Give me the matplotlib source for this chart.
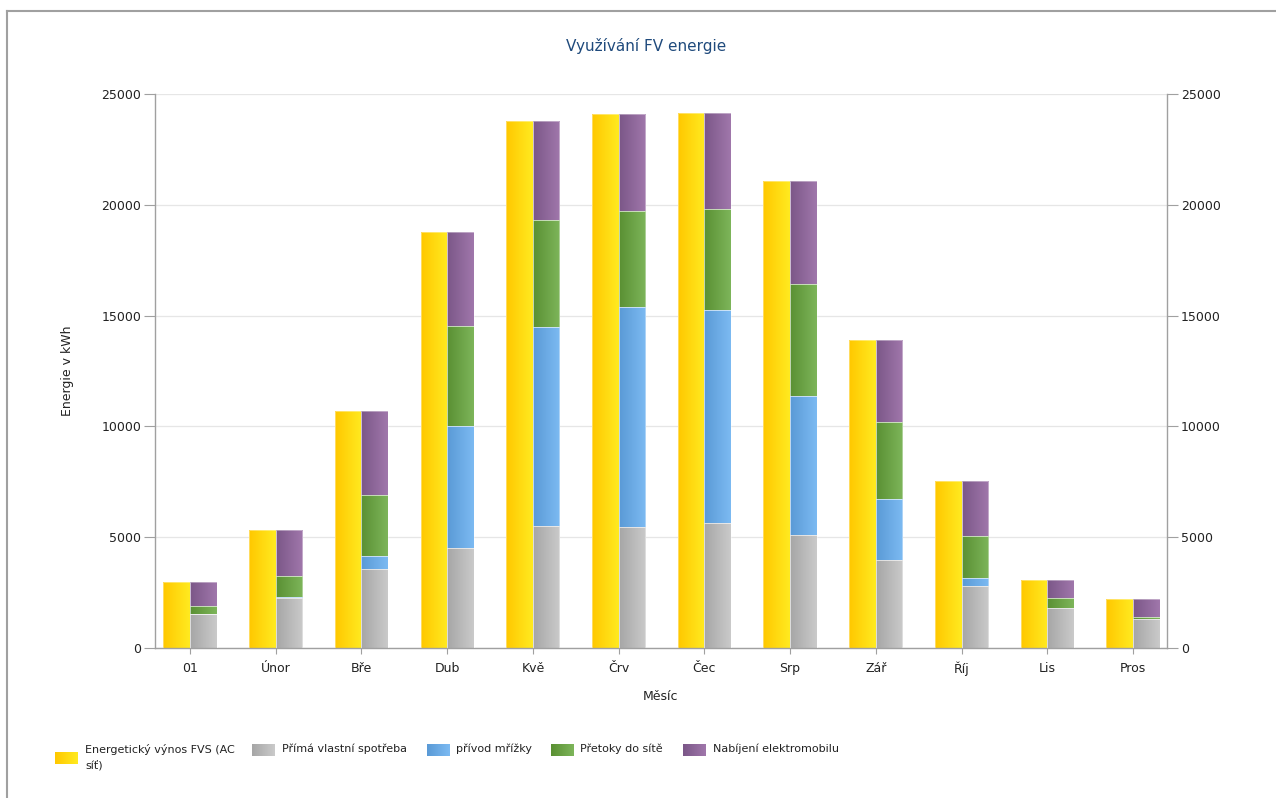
import numpy as np
import matplotlib
matplotlib.use("Agg")
import matplotlib.pyplot as plt
from matplotlib.colors import LinearSegmentedColormap
from matplotlib.lines import Line2D

plt.rcParams['font.family'] = ['DejaVu Sans']

# ---- data (kWh per month) ----
months = ["01", "Únor", "Bře", "Dub", "Kvě", "Črv", "Čec", "Srp", "Zář", "Říj", "Lis", "Pros"]
vynos_fvs = [2980, 5330, 10700, 18770, 23770, 24080, 24160, 21070, 13900, 7550, 3080, 2210]
prima_spotreba = [1520, 2270, 3560, 4500, 5490, 5450, 5640, 5080, 3970, 2800, 1790, 1290]
privod_mrizky = [20, 10, 590, 5520, 9010, 9940, 9630, 6280, 2740, 350, 0, 0]
pretoky_do_site = [370, 980, 2750, 4510, 4810, 4320, 4540, 5080, 3490, 1920, 450, 110]
nabijeni_ev = [1070, 2070, 3800, 4240, 4460, 4370, 4350, 4630, 3700, 2480, 840, 810]

series_names = ["Energetický výnos FVS (AC\nsíť)", "Přímá vlastní spotřeba",
                "přívod mřížky", "Přetoky do sítě", "Nabíjení elektromobilu"]
# left -> right gradient colours of each series
grad_colors = [("#FFC800", "#FFEA20"),
               ("#A6A6A6", "#CACACA"),
               ("#5A9AD6", "#7CBAF2"),
               ("#5A9033", "#7DB55A"),
               ("#7B5788", "#A077AB")]

W, H = 1276, 798
fig = plt.figure(figsize=(W / 100, H / 100), dpi=100)
fig.patch.set_facecolor("white")

# axes frame in pixel terms
L, R, T, B = 155, 1167, 94, 648
ax = fig.add_axes([L / W, 1 - B / H, (R - L) / W, (B - T) / H])


def gradient_fill(axis, rect, c0, c1):
    x0, y0 = rect.get_xy()
    w, h = rect.get_width(), rect.get_height()
    if h <= 0:
        return
    cmap = LinearSegmentedColormap.from_list("g", [c0, c1])
    im = axis.imshow(np.linspace(0, 1, 64).reshape(1, -1), cmap=cmap,
                     extent=[x0, x0 + w, y0, y0 + h], aspect="auto",
                     interpolation="bilinear", zorder=2)
    im.set_clip_path(rect)
    rect.set_facecolor("none")
    rect.set_edgecolor((1, 1, 1, 0.45))
    rect.set_linewidth(0.6)
    rect.set_zorder(3)


x = np.arange(len(months))
bw = 0.31

# production bar
bars = ax.bar(x - bw / 2, vynos_fvs, width=bw, color=grad_colors[0][0])
for r in bars:
    gradient_fill(ax, r, *grad_colors[0])

# stacked usage bar
bottom = np.zeros(len(months))
stack = [prima_spotreba, privod_mrizky, pretoky_do_site, nabijeni_ev]
for vals, cols in zip(stack, grad_colors[1:]):
    vals = np.array(vals, dtype=float)
    bs = ax.bar(x + bw / 2, vals, width=bw, bottom=bottom, color=cols[0])
    for r in bs:
        gradient_fill(ax, r, *cols)
    bottom += vals

ax.set_xlim(-0.408, len(months) - 1 + 0.397)
ax.set_ylim(0, 25000)
ax.set_yticks(np.arange(0, 25001, 5000))
ax.set_xticks(x)
ax.set_xticklabels(months)

ax.grid(axis="y", color="#e6e6e6", linewidth=0.9, zorder=0)
ax.set_axisbelow(True)
ax.spines["top"].set_visible(False)
for s in ["left", "right", "bottom"]:
    ax.spines[s].set_color("#a0a0a0")
    ax.spines[s].set_linewidth(1.0)

ax.tick_params(axis="y", which="both", left=True, right=True, labelleft=True,
               labelright=True, length=8, width=0.8, color="#a0a0a0",
               pad=2, labelsize=9, labelcolor="#222222")
ax.tick_params(axis="x", length=4, width=0.8, color="#a0a0a0", pad=6,
               labelsize=9, labelcolor="#222222")

ax.set_xlabel("Měsíc", fontsize=9, color="#222222")
ax.xaxis.label.set_va("center")
ax.xaxis.set_label_coords((660 - L) / (R - L), -(697 - B) / (B - T))
ax.set_ylabel("Energie v kWh", fontsize=9, color="#222222")
ax.yaxis.label.set_va("center")
ax.yaxis.set_label_coords((68 - L) / (R - L), 0.5)

fig.text(646 / W, 1 - 46 / H, "Využívání FV energie", ha="center", va="center",
         fontsize=11, color="#1F4A7C")

# overlay in pixel coordinates for legend and outer frame
ov = fig.add_axes([0, 0, 1, 1], zorder=-1)
ov.set_xlim(0, W)
ov.set_ylim(H, 0)
ov.axis("off")
ov.add_line(Line2D([7, W], [11, 11], color="#a0a0a0", linewidth=1.5))
ov.add_line(Line2D([7, 7], [11, H], color="#a0a0a0", linewidth=1.5))

patch_x = [55, 252, 427, 551, 683]
text_x = [85, 282, 456, 580, 713]
patch_yc = [758, 750, 750, 750, 750]
for i, name in enumerate(series_names):
    cmap = LinearSegmentedColormap.from_list("g", list(grad_colors[i]))
    ov.imshow(np.linspace(0, 1, 32).reshape(1, -1), cmap=cmap,
              extent=[patch_x[i], patch_x[i] + 23, patch_yc[i] + 6, patch_yc[i] - 6],
              aspect="auto", interpolation="bilinear")
    ov.text(text_x[i], 744, name, ha="left", va="top", fontsize=8,
            color="#222222", linespacing=1.75)
ov.set_xlim(0, W)
ov.set_ylim(H, 0)

fig.savefig("out.png", dpi=100, facecolor="white")
